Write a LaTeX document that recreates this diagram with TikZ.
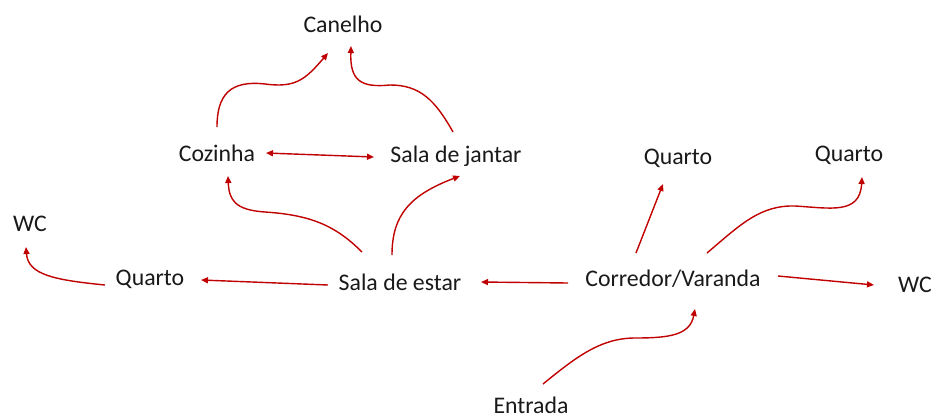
\documentclass[tikz,border=0pt]{standalone}
\usepackage{fontspec}
\setmainfont{Carlito}
\usetikzlibrary{arrows.meta}
\definecolor{arrred}{RGB}{192,0,0}
\tikzset{
  lbl/.style={inner sep=0pt, font=\fontsize{23.8}{28}\selectfont, text=black!90},
  arr/.style={draw=arrred, line width=1.4pt, -{Triangle[length=7pt,width=6pt]}},
  darr/.style={draw=arrred, line width=1.4pt, {Triangle[length=7pt,width=6pt]}-{Triangle[length=7pt,width=6pt]}}
}
\begin{document}
\begin{tikzpicture}[x=1pt,y=-1pt]
\useasboundingbox (0,0) rectangle (932,418);
% nodes
\node[lbl] (canelho) at (343,24) {Canelho};
\node[lbl] (cozinha) at (217,153) {Cozinha};
\node[lbl] (jantar) at (456,156) {Sala de jantar};
\node[lbl] (quartoM) at (678,158) {Quarto};
\node[lbl] (quartoR) at (849,155) {Quarto};
\node[lbl] (wcL) at (30,224) {WC};
\node[lbl] (quartoL) at (150,279) {Quarto};
\node[lbl] (estar) at (400,282) {Sala de estar};
\node[lbl] (corredor) at (673,279) {Corredor/Varanda};
\node[lbl] (wcR) at (915,285) {WC};
\node[lbl] (entrada) at (531,405) {Entrada};
% connector end points
\coordinate (c1s) at (217,127); \coordinate (c1e) at (328,53);
\coordinate (c2s) at (453,132); \coordinate (c2e) at (351,46);
\coordinate (c3s) at (266,153); \coordinate (c3e) at (374,157);
\coordinate (c4s) at (362,252); \coordinate (c4e) at (228,176);
\coordinate (c5s) at (392,255); \coordinate (c5e) at (460,176);
\coordinate (c6s) at (328,285); \coordinate (c6e) at (201,280);
\coordinate (c7s) at (105,285); \coordinate (c7e) at (26,247);
\coordinate (c8s) at (568,283); \coordinate (c8e) at (481,282);
\coordinate (c9s) at (636,253); \coordinate (c9e) at (663,184);
\coordinate (c10s) at (707,253); \coordinate (c10e) at (862,177);
\coordinate (c11s) at (778,276); \coordinate (c11e) at (874,285);
\coordinate (c12s) at (543,384); \coordinate (c12e) at (695,309);
% connectors
\draw[arr] (c1s) .. controls (217,95) and (230,80) .. (265,84) .. controls (295,88) and (305,80) .. (c1e);
\draw[arr] (c2s) .. controls (435,100) and (420,85) .. (390,85) .. controls (360,88) and (350,80) .. (c2e);
\draw[darr] (c3s) -- (c3e);
\draw[arr] (c4s) .. controls (335,225) and (310,215) .. (265,212) .. controls (235,210) and (229,200) .. (c4e);
\draw[arr] (c5s) .. controls (392,215) and (410,195) .. (c5e);
\draw[arr] (c6s) -- (c6e);
\draw[arr] (c7s) .. controls (55,280) and (28,275) .. (c7e);
\draw[arr] (c8s) -- (c8e);
\draw[arr] (c9s) -- (c9e);
\draw[arr] (c10s) .. controls (740,225) and (760,205) .. (795,206) .. controls (830,208) and (860,215) .. (c10e);
\draw[arr] (c11s) -- (c11e);
\draw[arr] (c12s) .. controls (575,358) and (600,338) .. (635,338) .. controls (670,338) and (690,335) .. (c12e);
\end{tikzpicture}
\end{document}
